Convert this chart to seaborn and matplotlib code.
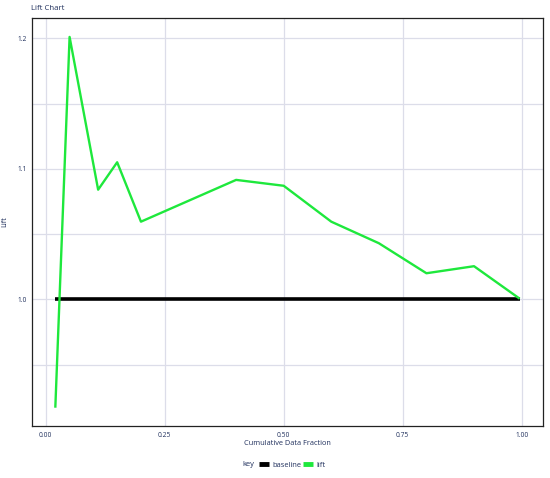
import matplotlib
matplotlib.use("Agg")
import matplotlib.pyplot as plt
from matplotlib.lines import Line2D
import seaborn as sns
import pandas as pd
import numpy as np

# ---- data ----
lift_x = [0.02, 0.05, 0.11, 0.15, 0.20, 0.40, 0.50, 0.60, 0.70, 0.80, 0.90, 0.996]
lift_y = [0.917, 1.201, 1.084, 1.105, 1.0595, 1.0915, 1.087, 1.0595, 1.043, 1.020, 1.0254, 1.0005]
base_x = [0.02, 0.996]
base_y = [1.0, 1.0]
x_ticks = [0.0, 0.25, 0.50, 0.75, 1.00]
x_tick_labels = ["0.00", "0.25", "0.50", "0.75", "1.00"]
y_ticks = [1.0, 1.1, 1.2]
y_tick_labels = ["1.0", "1.1", "1.2"]
y_minor = [0.95, 1.05, 1.15]
keys = ["baseline", "lift"]
colors = {"baseline": "#000000", "lift": "#1ee83c"}

df = pd.concat([
    pd.DataFrame({"x": base_x, "y": base_y, "key": "baseline"}),
    pd.DataFrame({"x": lift_x, "y": lift_y, "key": "lift"}),
], ignore_index=True)

sns.set_theme(style="white")
plt.rcParams["font.family"] = ["Open Sans", "DejaVu Sans"]
navy = "#1f2f5c"
gridc = "#dcdde9"

fig = plt.figure(figsize=(5.5, 4.78), dpi=100)
ax = fig.add_axes([32/550, 1-426/478, (543-32)/550, (426-18)/478])

for k in keys:
    sub = df[df["key"] == k]
    sns.lineplot(data=sub, x="x", y="y", ax=ax, color=colors[k],
                 linewidth=2.6 if k == "baseline" else 1.7,
                 sort=False, estimator=None, legend=False, zorder=3,
                 solid_capstyle="butt")

ax.set_xlim(-0.029, 1.045)
ax.set_ylim(0.903, 1.2155)
ax.set_xticks(x_ticks)
ax.set_xticklabels(x_tick_labels)
ax.set_yticks(y_ticks)
ax.set_yticklabels(y_tick_labels)
ax.set_yticks(y_minor, minor=True)
ax.grid(True, which="major", color=gridc, linewidth=0.9, zorder=0)
ax.grid(True, which="minor", axis="y", color=gridc, linewidth=0.9, zorder=0)
ax.tick_params(axis="both", which="major", labelsize=4.8, labelcolor=navy,
               length=2, color=gridc, pad=2)
ax.tick_params(axis="both", which="minor", length=0)
for s in ax.spines.values():
    s.set_color("#222222")
    s.set_linewidth(0.9)

ax.set_xlabel("Cumulative Data Fraction", fontsize=5.3, color=navy, labelpad=1)
ax.set_ylabel("Lift", fontsize=5.3, color=navy, labelpad=6)
fig.text(31/550, 1-8/478, "Lift Chart", fontsize=5.6, color=navy, va="center", ha="left")

handles = [Line2D([], [], color=colors[k], linewidth=3.5, solid_capstyle="butt") for k in keys]
leg = fig.legend(handles, keys, loc="center", bbox_to_anchor=(292/550, 1-465/478),
                 ncol=2, frameon=False, fontsize=5.4, handlelength=1.4,
                 handletextpad=0.35, columnspacing=0.25, labelcolor=navy)
fig.text(254/550, 1-465/478, "key", fontsize=5.4, color=navy, va="center", ha="right")

fig.savefig("out.png", dpi=100)
